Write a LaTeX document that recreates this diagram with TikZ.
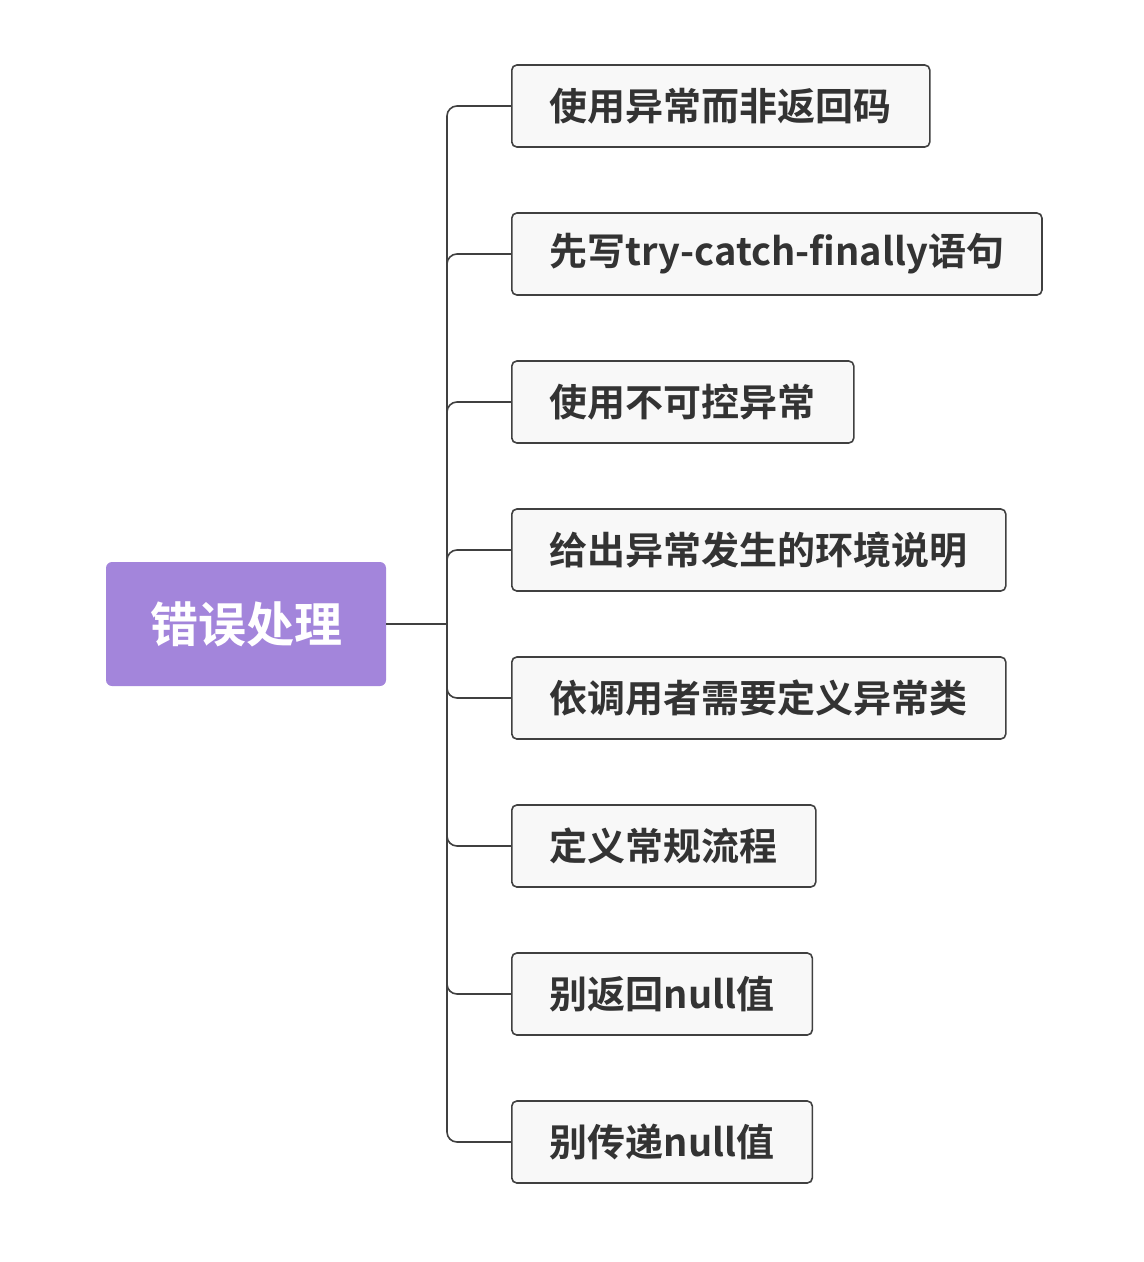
\documentclass[tikz,border=0pt]{standalone}
\usepackage{fontspec}
\setmainfont{Noto Sans CJK SC}
\newfontfamily\cjkb{Noto Sans CJK SC Bold}
\definecolor{rootc}{HTML}{A385DB}
\definecolor{boxfill}{HTML}{F8F8F8}
\definecolor{linec}{HTML}{404040}
\definecolor{txtc}{HTML}{333333}
\begin{document}
\begin{tikzpicture}[x=1pt,y=1pt,
  rootbox/.style={fill=rootc, rounded corners=6pt, minimum width=280pt, minimum height=124pt, text=white, font=\cjkb\fontsize{48}{52}\selectfont, inner sep=0pt},
  childbox/.style={draw=linec, line width=1.6pt, fill=boxfill, rounded corners=5pt, anchor=west, minimum height=82pt, inner xsep=38pt, inner ysep=0pt, text=txtc, font=\cjkb\fontsize{38}{42}\selectfont},
  conn/.style={draw=linec, line width=1.6pt, rounded corners=10pt}]
\useasboundingbox (0,0) rectangle (1144,-1262);
\node[rootbox] (root) at (246,-624) {错误处理};
\node[childbox] (c1) at (511,-106) {使用异常而非返回码};
\node[childbox] (c2) at (511,-254) {先写try-catch-finally语句};
\node[childbox] (c3) at (511,-402) {使用不可控异常};
\node[childbox] (c4) at (511,-550) {给出异常发生的环境说明};
\node[childbox] (c5) at (511,-698) {依调用者需要定义异常类};
\node[childbox] (c6) at (511,-846) {定义常规流程};
\node[childbox] (c7) at (511,-994) {别返回null值};
\node[childbox] (c8) at (511,-1142) {别传递null值};
\coordinate (j) at (447,-624);
\draw[draw=linec, line width=1.6pt] (root.east) -- (j);
\foreach \c in {c1,c2,c3,c4,c5,c6,c7,c8}{
  \draw[conn] (j) |- (\c.west);
}
\end{tikzpicture}
\end{document}
